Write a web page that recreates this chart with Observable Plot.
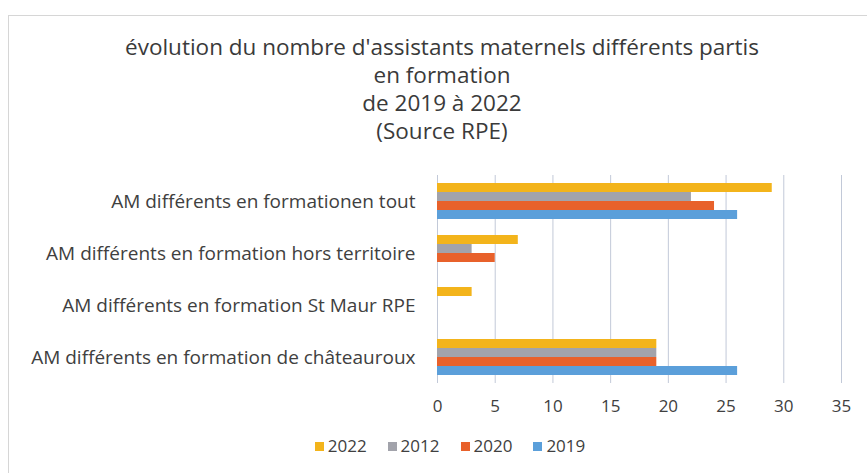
<!DOCTYPE html>
<html>
<head>
<meta charset="utf-8">
<script src="https://cdn.jsdelivr.net/npm/d3@7"></script>
<script src="https://cdn.jsdelivr.net/npm/@observablehq/plot@0.6"></script>
<style>
  html, body { margin: 0; padding: 0; background: #fff; }
  #wrap { position: relative; width: 867px; height: 473px; overflow: hidden; font-family: "Open Sans", sans-serif; color: #404040; }
  #frame { position: absolute; left: 8px; top: 15px; width: 900px; height: 520px; border: 1px solid #d6d6d6; box-sizing: border-box; }
  #title { position: absolute; left: 0; width: 884px; top: 33px; text-align: center; font-size: 22.5px; line-height: 28px; color: #3a3a3a; }
  #chart { position: absolute; left: 0; top: 0; }
  #legend { position: absolute; left: 0; width: 900px; top: 435px; display: flex; justify-content: center; gap: 21px; font-size: 17px; line-height: 22px; color: #404040; }
  .item { display: flex; align-items: center; gap: 4px; }
  .sw { width: 9px; height: 9px; display: inline-block; }
</style>
</head>
<body>
<div id="wrap">
  <div id="frame"></div>
  <div id="chart"></div>
  <div id="title">évolution du nombre d'assistants maternels différents partis<br>en formation<br>de 2019 à 2022<br>(Source RPE)</div>
  <div id="legend"></div>
</div>
<script>
const categories = [
  "AM différents en formationen tout",
  "AM différents en formation hors territoire",
  "AM différents en formation St Maur RPE",
  "AM différents en formation de châteauroux"
];
const series = ["2022", "2012", "2020", "2019"];
const values2022 = [29, 7, 3, 19];
const values2012 = [22, 3, 0, 19];
const values2020 = [24, 5, 0, 19];
const values2019 = [26, 0, 0, 26];
const xTicks = [0, 5, 10, 15, 20, 25, 30, 35];
const colors = ["#f3b41b", "#a2a3ab", "#e8612b", "#5b9fda"];

const bySeries = { "2022": values2022, "2012": values2012, "2020": values2020, "2019": values2019 };
const rows = [];
for (const s of series) categories.forEach((c, i) => rows.push({ category: c, series: s, value: bySeries[s][i] }));

const chart = Plot.plot({
  width: 867,
  height: 473,
  marginLeft: 437,
  marginRight: 26,
  marginTop: 175,
  marginBottom: 90,
  style: { fontFamily: "'Open Sans', sans-serif", fontSize: "17px", color: "#404040", background: "transparent" },
  x: { domain: [0, 35], ticks: xTicks, tickSize: 0, tickPadding: 16, label: null },
  y: { domain: series, axis: null, paddingInner: 0, paddingOuter: 0.8 },
  fy: { domain: categories, axis: "left", label: null, tickSize: 0, tickPadding: 22, padding: 0 },
  color: { domain: series, range: colors },
  marks: [
    Plot.ruleX(xTicks, { stroke: "#c2c9d8", strokeWidth: 1 }),
    Plot.barX(rows, { x: "value", y: "series", fy: "category", fill: "series" })
  ]
});
chart.querySelectorAll('g[aria-label="fy-axis tick label"] text, g[aria-label="fy-axis"] text').forEach(t => t.style.fontSize = "19px");
document.getElementById("chart").appendChild(chart);

const legend = document.getElementById("legend");
series.forEach((s, i) => {
  const it = document.createElement("div");
  it.className = "item";
  const sw = document.createElement("span");
  sw.className = "sw";
  sw.style.background = chart.scale("color").apply(s);
  const t = document.createElement("span");
  t.textContent = s;
  it.appendChild(sw); it.appendChild(t);
  legend.appendChild(it);
});
</script>
</body>
</html>
